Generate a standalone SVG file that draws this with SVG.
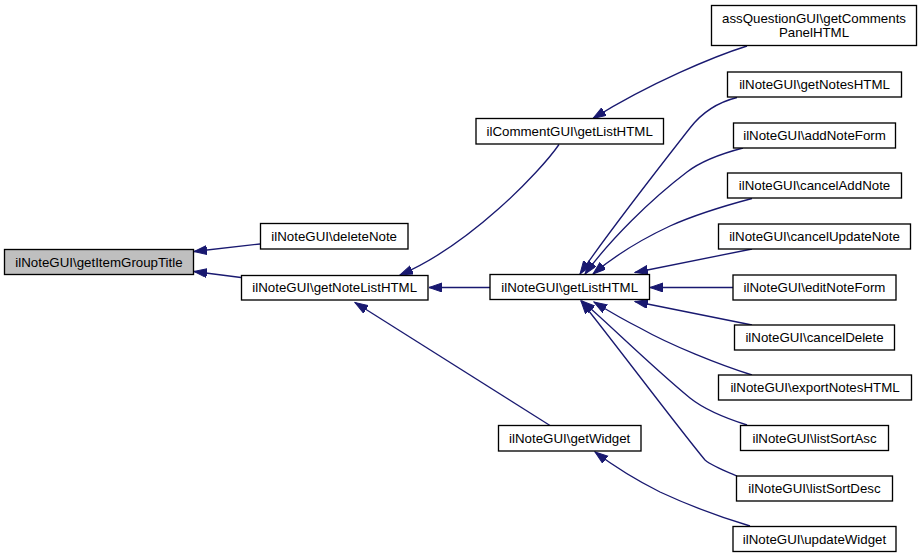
<svg xmlns="http://www.w3.org/2000/svg" width="923" height="559" viewBox="0 0 923 559">
<defs>
<style>
.n rect{fill:#fff;stroke:#000;stroke-width:1.33}
.n.root rect{fill:#bfbfbf}
.n text{font-family:"Liberation Sans",Arial,Helvetica,sans-serif;font-size:13.3px;text-anchor:middle;fill:#000}
.e path{fill:none;stroke:#191970;stroke-width:1.33;marker-end:url(#ah)}
</style>
<marker id="ah" markerUnits="userSpaceOnUse" markerWidth="14" markerHeight="10" refX="13" refY="4.5" orient="auto">
<path d="M0,0 L13,4.5 L0,9 z" fill="#191970" stroke="#191970" stroke-width="1"/>
</marker>
</defs>
<rect width="923" height="559" fill="#fff"/>
<g id="edges" class="e">
<path d="M260,244 L194,251.5"/>
<path d="M241,277.5 L194,271.5"/>
<path d="M490,287.5 L429,287.5"/>
<path d="M559,144.5 C540,172 470,245 400,275"/>
<path d="M550,425.5 L355,302.5"/>
<path d="M747,46 C715,56 650,83 593,118.5"/>
<path d="M737,97.5 C715,103 700,115 690,128 C665,160 610,230 580,274"/>
<path d="M743,148 C720,154 700,162 687,172 C650,200 610,240 585,274"/>
<path d="M752,198.5 C720,207 690,217 670,226 C640,240 612,258 593,274"/>
<path d="M752,249 L635,272.5"/>
<path d="M733,287.5 L650,287.5"/>
<path d="M752,325 L635,301.5"/>
<path d="M752,375 C720,365 670,345 640,328 C620,318 607,310 594,302"/>
<path d="M747,425 C725,418 705,410 690,398 C650,365 610,325 582,301"/>
<path d="M737,476 C725,471 712,466 705,460 C680,430 620,350 581,301"/>
<path d="M750,526 C720,517 690,506 660,492 C640,482 615,467 595,452"/>
</g>
<g id="node-getItemGroupTitle" class="n root"><rect x="4.5" y="249.5" width="189" height="25"/><text x="99" y="266.5">ilNoteGUI\getItemGroupTitle</text></g>
<g id="node-deleteNote" class="n"><rect x="260.5" y="223.5" width="147.5" height="25.5"/><text x="334.2" y="241">ilNoteGUI\deleteNote</text></g>
<g id="node-getNoteListHTML" class="n"><rect x="241.5" y="275.5" width="186.5" height="24.5"/><text x="334.7" y="292.3">ilNoteGUI\getNoteListHTML</text></g>
<g id="node-ilCommentGUI-getListHTML" class="n"><rect x="476" y="118.5" width="187.5" height="25.5"/><text x="569.7" y="136">ilCommentGUI\getListHTML</text></g>
<g id="node-getListHTML" class="n"><rect x="490" y="274.5" width="159.5" height="25"/><text x="569.7" y="292">ilNoteGUI\getListHTML</text></g>
<g id="node-getWidget" class="n"><rect x="498.5" y="425.5" width="142.5" height="25.5"/><text x="569.7" y="443">ilNoteGUI\getWidget</text></g>
<g id="node-getCommentsPanelHTML" class="n"><rect x="711.5" y="5.5" width="205" height="40"/><text x="814" y="22.5">assQuestionGUI\getComments</text><text x="814" y="37">PanelHTML</text></g>
<g id="node-getNotesHTML" class="n"><rect x="727.5" y="72" width="174" height="25"/><text x="814.5" y="89">ilNoteGUI\getNotesHTML</text></g>
<g id="node-addNoteForm" class="n"><rect x="733.5" y="123" width="162" height="25"/><text x="814.5" y="140">ilNoteGUI\addNoteForm</text></g>
<g id="node-cancelAddNote" class="n"><rect x="727.5" y="173" width="174" height="25"/><text x="814.5" y="190">ilNoteGUI\cancelAddNote</text></g>
<g id="node-cancelUpdateNote" class="n"><rect x="718.5" y="224" width="192" height="25"/><text x="814.5" y="241">ilNoteGUI\cancelUpdateNote</text></g>
<g id="node-editNoteForm" class="n"><rect x="733" y="275" width="163" height="25"/><text x="814.5" y="292">ilNoteGUI\editNoteForm</text></g>
<g id="node-cancelDelete" class="n"><rect x="734.5" y="325" width="160" height="25"/><text x="814.5" y="342">ilNoteGUI\cancelDelete</text></g>
<g id="node-exportNotesHTML" class="n"><rect x="718.5" y="375" width="193" height="25"/><text x="815" y="392">ilNoteGUI\exportNotesHTML</text></g>
<g id="node-listSortAsc" class="n"><rect x="740.5" y="425.5" width="148" height="25"/><text x="814.5" y="442.5">ilNoteGUI\listSortAsc</text></g>
<g id="node-listSortDesc" class="n"><rect x="736.5" y="476" width="156" height="25"/><text x="814.5" y="493">ilNoteGUI\listSortDesc</text></g>
<g id="node-updateWidget" class="n"><rect x="733" y="526.5" width="163" height="25"/><text x="814.5" y="543.5">ilNoteGUI\updateWidget</text></g>
</svg>
